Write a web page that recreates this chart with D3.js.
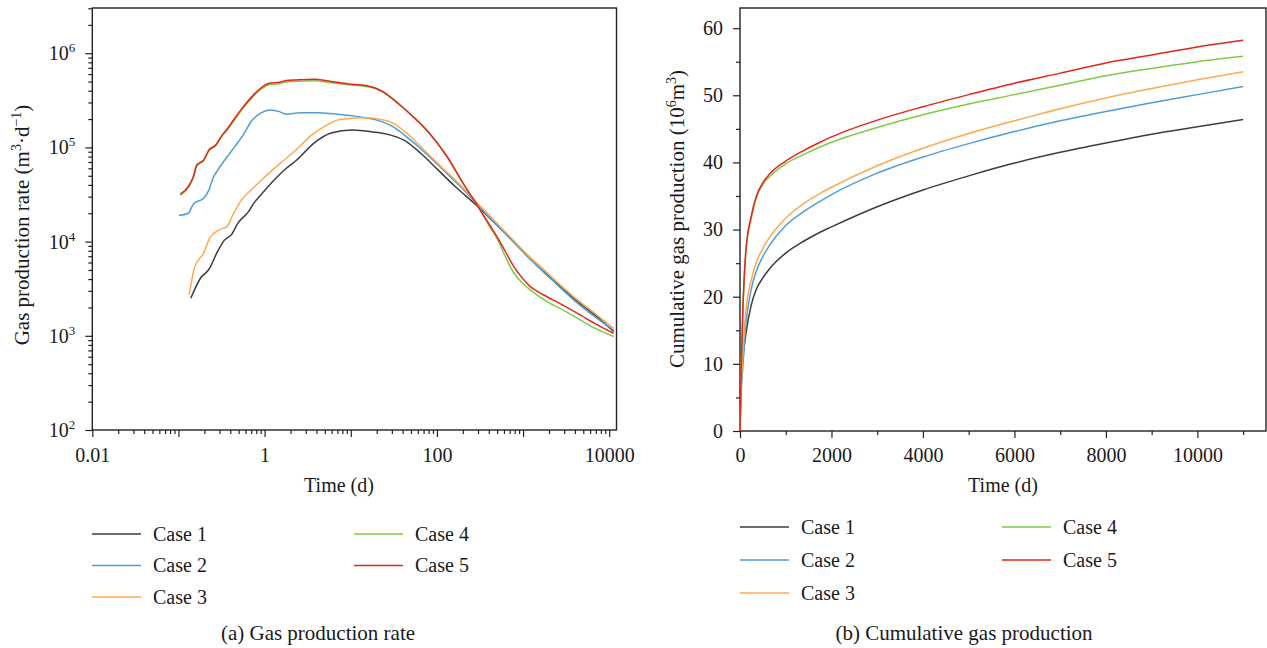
<!DOCTYPE html>
<html>
<head>
<meta charset="utf-8">
<script src="https://cdn.jsdelivr.net/npm/d3@7"></script>
<style>
  body { margin: 0; background: #fff; }
  svg text { font-family: "Liberation Serif", "Times New Roman", serif; fill: #1a1a1a; }
</style>
</head>
<body>
<svg id="fig" width="1267" height="648"></svg>
<script>
const caseNames = ["Case 1", "Case 2", "Case 3", "Case 4", "Case 5"];
const caseColors = ["#3d3d3d", "#4f9dd4", "#ffa94f", "#7fcb44", "#e2261d"];

// (a) gas production rate, time in d, rate in m3/d
const rateT1 = [0.139, 0.18, 0.226, 0.284, 0.34, 0.41, 0.49, 0.65, 0.75, 0.94, 1.29, 1.79, 2.36, 3.74, 5.92, 10.3, 17.9, 28.2, 40.9, 64.9, 103, 163, 285, 592, 1130, 2170, 4080, 7170, 11270];
const rateQ1 = [2500, 4080, 5090, 7830, 10300, 11800, 15700, 20800, 25600, 32700, 45200, 60100, 73600, 111000, 142000, 153000, 146000, 136000, 120000, 86700, 57700, 38400, 24500, 12800, 7050, 3980, 2400, 1600, 1110];

const rateT2 = [0.101, 0.13, 0.149, 0.196, 0.226, 0.247, 0.296, 0.357, 0.45, 0.566, 0.712, 0.897, 1.19, 1.49, 1.79, 2.58, 4.14, 7.14, 12.4, 19.6, 30.9, 49.2, 78, 124, 196, 311, 592, 1130, 2170, 4080, 7170, 11270];
const rateQ2 = [18900, 20000, 25100, 28900, 35400, 45200, 60200, 76800, 102000, 136000, 193000, 231000, 250000, 240000, 225000, 234000, 234000, 225000, 212000, 196000, 166000, 120000, 83200, 55300, 36900, 23500, 12800, 6930, 3920, 2310, 1540, 1150];

const rateT3 = [0.133, 0.155, 0.196, 0.232, 0.296, 0.365, 0.428, 0.54, 0.712, 0.94, 1.24, 1.79, 2.36, 3.4, 4.9, 7.14, 10.3, 14.9, 23.6, 30.9, 44.7, 70.9, 112, 178, 311, 592, 1130, 2170, 4080, 7170, 11270];
const rateQ3 = [2720, 5430, 7540, 11000, 13300, 14400, 19200, 27700, 36000, 45900, 57700, 76800, 95700, 132000, 166000, 196000, 204000, 207000, 196000, 181000, 142000, 94000, 62500, 41700, 24500, 13300, 7230, 4190, 2500, 1670, 1200];

const rateT4 = [0.105, 0.13, 0.149, 0.163, 0.196, 0.226, 0.271, 0.312, 0.374, 0.45, 0.566, 0.712, 0.897, 1.13, 1.49, 1.79, 2.36, 3.74, 5.92, 9.4, 14.9, 19.6, 23.6, 37.4, 53.4, 80, 131, 200, 292, 400, 498, 620, 776, 960, 1213, 1500, 1896, 3000, 4610, 7000, 11250];
const rateQ4 = [31000, 37500, 48000, 63500, 72000, 92000, 104000, 127000, 156000, 198000, 262000, 335000, 410000, 462000, 475000, 495000, 503000, 510000, 485000, 462000, 443000, 418000, 385000, 280000, 210000, 145000, 80000, 42000, 24500, 15000, 10800, 7000, 4700, 3700, 3070, 2650, 2310, 1850, 1476, 1190, 982];

const rateT5 = [0.105, 0.13, 0.149, 0.163, 0.196, 0.226, 0.271, 0.312, 0.374, 0.45, 0.566, 0.712, 0.897, 1.13, 1.49, 1.79, 2.36, 3.74, 5.92, 9.4, 14.9, 19.6, 23.6, 37.4, 53.4, 80, 131, 200, 292, 400, 498, 620, 776, 960, 1213, 1500, 1896, 3000, 4610, 7000, 11250];
const rateQ5 = [32000, 38400, 49000, 65000, 73600, 94000, 106000, 130000, 160000, 204000, 271000, 346000, 425000, 481000, 492000, 512000, 521000, 530000, 500000, 472000, 453000, 425000, 391000, 282000, 210000, 145000, 80000, 42000, 24500, 15500, 11300, 7900, 5500, 4200, 3330, 2920, 2600, 2080, 1667, 1330, 1064];

// (b) cumulative gas production, 10^6 m3
const cumT = [0, 10, 25, 60, 130, 240, 350, 500, 650, 1000, 1400, 1750, 2000, 3000, 4000, 5000, 6000, 7000, 8000, 9000, 10000, 11000];
const cum1 = [0, 3.5, 7, 10.5, 14.5, 18.6, 21.0, 22.8, 24.2, 26.5, 28.3, 29.6, 30.4, 33.4, 35.9, 38.0, 39.9, 41.5, 42.9, 44.2, 45.3, 46.4];
const cum2 = [0, 2.5, 5.5, 9.3, 16.0, 20.9, 23.7, 26.0, 27.7, 30.6, 32.7, 34.2, 35.2, 38.4, 40.8, 42.8, 44.6, 46.2, 47.6, 48.9, 50.1, 51.3];
const cum3 = [0, 3, 6.5, 11.3, 18.0, 22.3, 25.0, 27.2, 28.9, 31.7, 33.9, 35.4, 36.3, 39.5, 42.1, 44.3, 46.2, 48.0, 49.6, 51.0, 52.3, 53.5];
const cum4 = [0, 4, 9, 17.3, 26.8, 31.5, 34.6, 36.7, 37.9, 39.8, 41.2, 42.3, 43.0, 45.2, 47.1, 48.7, 50.1, 51.5, 52.9, 54.0, 55.0, 55.8];
const cum5 = [0, 4, 9, 17.5, 27.0, 31.8, 34.8, 37.0, 38.3, 40.2, 41.8, 43.0, 43.8, 46.3, 48.3, 50.1, 51.8, 53.3, 54.8, 56.0, 57.2, 58.2];

const rateSeries = [[rateT1, rateQ1], [rateT2, rateQ2], [rateT3, rateQ3], [rateT4, rateQ4], [rateT5, rateQ5]]
  .map(([t, q]) => t.map((v, i) => [v, q[i]]));
const cumSeries = [cum1, cum2, cum3, cum4, cum5].map(c => cumT.map((t, i) => [t, c[i]]));

const svg = d3.select("#fig");
const FONT = 20;

function styleAxis(g) {
  g.attr("font-size", FONT).attr("font-family", null);
  g.select(".domain").remove();
  g.selectAll(".tick line").attr("stroke", "#222").attr("stroke-width", 1.2);
  g.selectAll(".tick text").attr("fill", "#1a1a1a");
}

function addRich(textSel, parts) {
  let shift = 0;
  parts.forEach(p => {
    const target = p.sup ? -8 : 0;
    textSel.append("tspan")
      .attr("dy", target - shift)
      .attr("font-size", p.sup ? 14 : null)
      .text(p.t);
    shift = target;
  });
}

function drawLegend(rows, col1, col2) {
  const spots = [[col1, rows[0]], [col1, rows[1]], [col1, rows[2]], [col2, rows[0]], [col2, rows[1]]];
  caseNames.forEach((name, i) => {
    const [x, y] = spots[i];
    svg.append("line").attr("x1", x).attr("x2", x + 49).attr("y1", y).attr("y2", y)
      .attr("stroke", caseColors[i]).attr("stroke-width", 1.5);
    svg.append("text").attr("x", x + 61).attr("y", y + 6.5).attr("font-size", FONT).text(name);
  });
}

// ---------- (a) Gas production rate ----------
const a = {left: 92.3, right: 616.5, top: 8, bottom: 430};
const xA = d3.scaleLog().domain([0.01, 12150]).range([a.left, a.right]);
const yA = d3.scaleLog().domain([100, 3.02e6]).range([a.bottom, a.top]);

const decX = [0.01, 0.1, 1, 10, 100, 1000, 10000];
const labX = [0.01, 1, 100, 10000];
const decY = [1e2, 1e3, 1e4, 1e5, 1e6];
const minorXA = decX.flatMap(d => d3.range(2, 10).map(k => k * d)).filter(v => v < 12150);
const minorYA = decY.flatMap(d => d3.range(2, 10).map(k => k * d)).filter(v => v < 3.02e6);

svg.append("g").attr("transform", `translate(0,${a.bottom})`)
  .call(d3.axisBottom(xA).tickValues(minorXA).tickSize(4).tickFormat(""))
  .call(styleAxis);
svg.append("g").attr("transform", `translate(0,${a.bottom})`)
  .call(d3.axisBottom(xA).tickValues(decX).tickSize(7).tickPadding(11)
    .tickFormat(d => labX.includes(d) ? String(d) : ""))
  .call(styleAxis);

svg.append("g").attr("transform", `translate(${a.left},0)`)
  .call(d3.axisLeft(yA).tickValues(minorYA).tickSize(4).tickFormat(""))
  .call(styleAxis);
const yAxA = svg.append("g").attr("transform", `translate(${a.left},0)`)
  .call(d3.axisLeft(yA).tickValues(decY).tickSize(7).tickPadding(10).tickFormat(() => ""))
  .call(styleAxis);
yAxA.selectAll(".tick text").each(function (d) {
  const t = d3.select(this).text("10");
  t.append("tspan").attr("dy", -8).attr("font-size", 13).text(Math.round(Math.log10(d)));
});

svg.append("rect").attr("x", a.left).attr("y", a.top)
  .attr("width", a.right - a.left).attr("height", a.bottom - a.top)
  .attr("fill", "none").attr("stroke", "#222").attr("stroke-width", 1.4);

const lineA = d3.line().x(d => xA(d[0])).y(d => yA(d[1])).curve(d3.curveMonotoneX);
svg.append("g").selectAll("path").data(rateSeries).join("path")
  .attr("d", lineA).attr("fill", "none")
  .attr("stroke", (d, i) => caseColors[i]).attr("stroke-width", 1.5);

svg.append("text").attr("x", 339).attr("y", 492).attr("text-anchor", "middle")
  .attr("font-size", FONT).text("Time (d)");
const yTitleA = svg.append("text").attr("transform", "translate(29,225) rotate(-90)")
  .attr("text-anchor", "middle").attr("font-size", 21);
addRich(yTitleA, [{t: "Gas production rate (m"}, {t: "3", sup: true}, {t: "·d"}, {t: "−1", sup: true}, {t: ")"}]);

drawLegend([534, 565.5, 597], 92, 354);
svg.append("text").attr("x", 318).attr("y", 640).attr("text-anchor", "middle")
  .attr("font-size", 21).text("(a) Gas production rate");

// ---------- (b) Cumulative gas production ----------
const b = {left: 740, right: 1266, top: 8, bottom: 431};
const xB = d3.scaleLinear().domain([0, 11500]).range([b.left, b.right]);
const yB = d3.scaleLinear().domain([0, 63]).range([b.bottom, b.top]);

svg.append("g").attr("transform", `translate(0,${b.bottom})`)
  .call(d3.axisBottom(xB).tickValues(d3.range(1000, 11500, 2000)).tickSize(4).tickFormat(""))
  .call(styleAxis);
svg.append("g").attr("transform", `translate(0,${b.bottom})`)
  .call(d3.axisBottom(xB).tickValues(d3.range(0, 11000, 2000)).tickSize(7).tickPadding(10).tickFormat(d3.format("d")))
  .call(styleAxis);
svg.append("g").attr("transform", `translate(${b.left},0)`)
  .call(d3.axisLeft(yB).tickValues(d3.range(5, 63, 10)).tickSize(4).tickFormat(""))
  .call(styleAxis);
svg.append("g").attr("transform", `translate(${b.left},0)`)
  .call(d3.axisLeft(yB).tickValues(d3.range(0, 61, 10)).tickSize(7).tickPadding(10).tickFormat(d3.format("d")))
  .call(styleAxis);

svg.append("rect").attr("x", b.left).attr("y", b.top)
  .attr("width", b.right - b.left).attr("height", b.bottom - b.top)
  .attr("fill", "none").attr("stroke", "#222").attr("stroke-width", 1.4);

const lineB = d3.line().x(d => xB(d[0])).y(d => yB(d[1])).curve(d3.curveMonotoneX);
svg.append("g").selectAll("path").data(cumSeries).join("path")
  .attr("d", lineB).attr("fill", "none")
  .attr("stroke", (d, i) => caseColors[i]).attr("stroke-width", 1.5);

svg.append("text").attr("x", 1003).attr("y", 492).attr("text-anchor", "middle")
  .attr("font-size", FONT).text("Time (d)");
const yTitleB = svg.append("text").attr("transform", "translate(684,219) rotate(-90)")
  .attr("text-anchor", "middle").attr("font-size", 21);
addRich(yTitleB, [{t: "Cumulative gas production (10"}, {t: "6", sup: true}, {t: "m"}, {t: "3", sup: true}, {t: ")"}]);

drawLegend([527, 560, 593], 740, 1002);
svg.append("text").attr("x", 964).attr("y", 640).attr("text-anchor", "middle")
  .attr("font-size", 21).text("(b) Cumulative gas production");
</script>
</body>
</html>
